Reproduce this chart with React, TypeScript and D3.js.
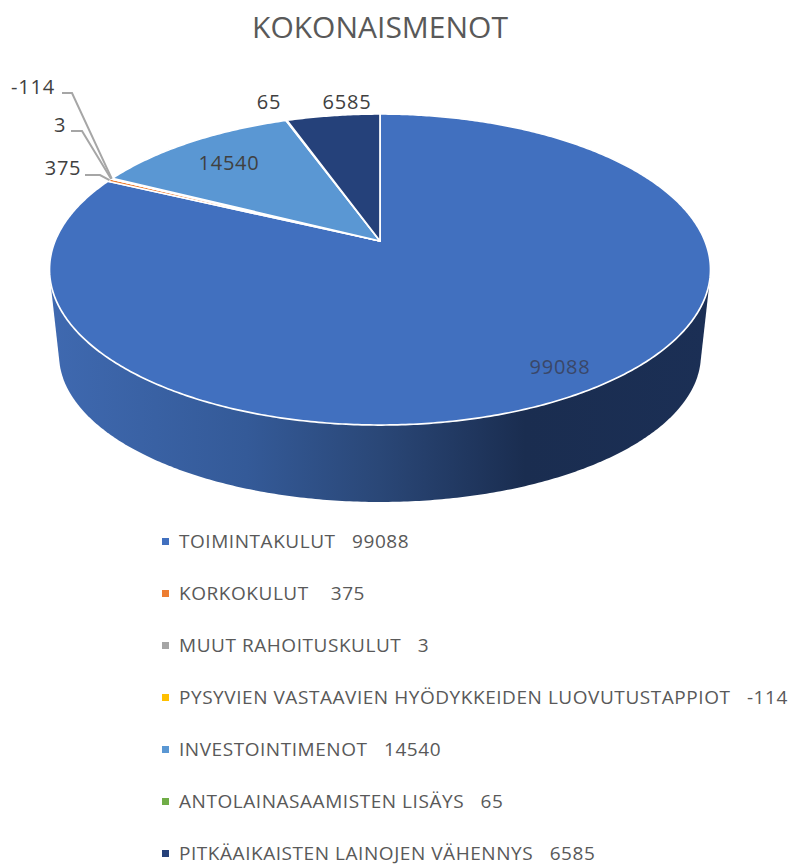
import React from 'react';
import * as d3 from 'd3';

const title = 'KOKONAISMENOT';
const names = [
  'TOIMINTAKULUT',
  'KORKOKULUT',
  'MUUT RAHOITUSKULUT',
  'PYSYVIEN VASTAAVIEN HYÖDYKKEIDEN LUOVUTUSTAPPIOT',
  'INVESTOINTIMENOT',
  'ANTOLAINASAAMISTEN LISÄYS',
  'PITKÄAIKAISTEN LAINOJEN VÄHENNYS',
];
const values = [99088, 375, 3, -114, 14540, 65, 6585];
const colors = ['#4170bf', '#ED7D31', '#A5A5A5', '#FFC000', '#5a97d3', '#70AD47', '#25417a'];
const gaps = ['   ', '    ', '   ', '   ', '   ', '   ', '   '];

const width = 792;
const height = 865;
const font = '"Open Sans", sans-serif';

// pie is in perspective, apex sits above the middle of the ellipse
const apexX = 380;
const apexY = 241;
const persp = -0.1833;
const spreadX = 324.9;
const spreadY = 150.3;

const project = (a: number): [number, number] => {
  const u = Math.sin(a);
  const v = -Math.cos(a);
  const w = 1 + persp * v;
  return [apexX + (spreadX * u) / w, apexY + (spreadY * v) / w];
};

// lower rim of the disc, a bit smaller because it is further away
const projectBottom = (a: number): [number, number] => {
  const [x, y] = project(a);
  return [apexX + (x - apexX) * 0.971, 355 + (y - apexY - 28.5) * 0.945];
};

const arcs = d3.pie<number>().sort(null).value(d => Math.abs(d))(values);
const line = d3.line();

const slicePath = (a0: number, a1: number) => {
  const n = Math.max(2, Math.ceil((a1 - a0) / 0.01));
  const rim = d3.range(n + 1).map(i => project(a0 + ((a1 - a0) * i) / n));
  return line([[apexX, apexY], ...rim]) + 'Z';
};

const turn = d3.range(0, Math.PI * 2, 0.01);
const hull = d3.polygonHull([...turn.map(project), ...turn.map(projectBottom)]);
const wallPath = line(hull as [number, number][]) + 'Z';

const sideStops = [
  { at: 0, c: '#3f69b0' },
  { at: 0.3, c: '#345a98' },
  { at: 0.5, c: '#2a4777' },
  { at: 0.72, c: '#1a2d50' },
  { at: 1, c: '#1b2f55' },
];

// where the data labels sit, index into values
const labelSpots = [
  { i: 0, x: 560, y: 374 },
  { i: 1, x: 63, y: 175 },
  { i: 2, x: 60, y: 132 },
  { i: 3, x: 33, y: 94 },
  { i: 4, x: 229, y: 170 },
  { i: 5, x: 269, y: 109 },
  { i: 6, x: 347, y: 109 },
];
const leaderSpots = [
  { i: 3, x0: 62, y0: 93, x1: 72 },
  { i: 2, x0: 71, y0: 131, x1: 82 },
  { i: 1, x0: 85, y0: 175, x1: 100 },
];

const legendY = d3.scalePoint<number>().domain(d3.range(names.length)).range([541, 853]);

export default function App() {
  return (
    <svg width={width} height={height} style={{ position: 'absolute', left: 0, top: 0, background: '#fff' }}>
      <defs>
        <linearGradient id="side" gradientUnits="userSpaceOnUse" x1={49} x2={710} y1={0} y2={0}>
          {sideStops.map(s => (
            <stop key={s.at} offset={s.at} stopColor={s.c} />
          ))}
        </linearGradient>
      </defs>

      <text x={380} y={38} textAnchor="middle" fontFamily={font} fontSize={30} fill="#595959">
        {title}
      </text>

      <path d={wallPath} fill="url(#side)" />
      {arcs.map((d, i) => (
        <path key={i} d={slicePath(d.startAngle, d.endAngle)} fill={colors[i]} stroke="#fff" strokeWidth={1.7} strokeLinejoin="round" />
      ))}

      {leaderSpots.map(l => {
        const a = arcs[l.i];
        const end = project((a.startAngle + a.endAngle) / 2);
        return (
          <path key={l.i} d={line([[l.x0, l.y0], [l.x1, l.y0], end]) as string} fill="none" stroke="#a6a6a6" strokeWidth={2} />
        );
      })}

      {labelSpots.map(l => (
        <text key={l.i} x={l.x} y={l.y} textAnchor="middle" fontFamily={font} fontSize={20} letterSpacing={0.8} fill={l.i === 0 ? '#3a4768' : '#404040'}>
          {values[l.i]}
        </text>
      ))}

      {names.map((n, i) => (
        <g key={n}>
          <rect x={162} y={(legendY(i) as number) - 3} width={7} height={7} fill={colors[i]} />
          <text x={179} y={(legendY(i) as number) + 7} fontFamily={font} fontSize={19} letterSpacing={0.55} fill="#595959" style={{ whiteSpace: 'pre' }}>
            {n + gaps[i] + values[i]}
          </text>
        </g>
      ))}
    </svg>
  );
}
